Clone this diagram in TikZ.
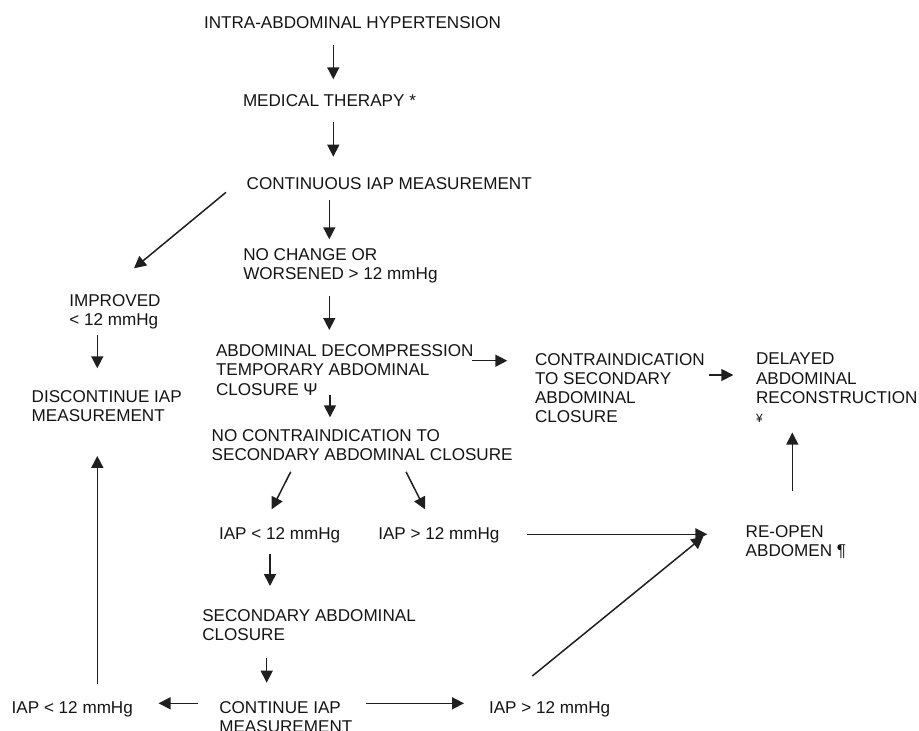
\documentclass[tikz,border=0pt]{standalone}
\usepackage{fontspec}
\setmainfont{Liberation Sans}
\usetikzlibrary{arrows.meta,calc}
\begin{document}
\begin{tikzpicture}[x=1pt,y=-1pt,
  lbl/.style={anchor=north west,inner sep=0pt,outer sep=0pt,align=left,text=black!92,
    font=\fontsize{17.1}{19.2}\selectfont},
  arr/.style={line width=1.5pt,draw=black!88,-{Triangle[width=12pt,length=12pt]}}]
\useasboundingbox (0,0) rectangle (919,731);
% nodes
\node[lbl] (n1) at (204,16.8) {INTRA-ABDOMINAL HYPERTENSION};
\node[lbl] (n2) at (243,94.2) {MEDICAL THERAPY *};
\node[lbl] (n3) at (246.7,177.5) {CONTINUOUS IAP MEASUREMENT};
\node[lbl] (n4) at (243.3,248.5) {NO CHANGE OR\\WORSENED > 12 mmHg};
\node[lbl] (n5) at (69.3,294.8) {IMPROVED\\< 12 mmHg};
\node[lbl] (n6) at (31.7,390.2) {DISCONTINUE IAP\\MEASUREMENT};
\node[lbl] (n7) at (216,344.8) {ABDOMINAL DECOMPRESSION\\TEMPORARY ABDOMINAL\\CLOSURE Ψ};
\node[lbl] (n8) at (535,353.2) {CONTRAINDICATION\\TO SECONDARY\\ABDOMINAL\\CLOSURE};
\node[lbl] (n9) at (756,353.2) {DELAYED\\ABDOMINAL\\RECONSTRUCTION\\{\fontsize{12}{19.2}\selectfont ¥}};
\node[lbl] (n10) at (211.7,429.8) {NO CONTRAINDICATION TO\\SECONDARY ABDOMINAL CLOSURE};
\node[lbl] (n11) at (219,527.5) {IAP < 12 mmHg};
\node[lbl] (n12) at (378.3,527.5) {IAP > 12 mmHg};
\node[lbl] (n13) at (745.7,525.8) {RE-OPEN\\ABDOMEN ¶};
\node[lbl] (n14) at (202.3,609.2) {SECONDARY ABDOMINAL\\CLOSURE};
\node[lbl] (n15) at (219.3,701.5) {CONTINUE IAP\\MEASUREMENT};
\node[lbl] (n16) at (11.7,701.5) {IAP < 12 mmHg};
\node[lbl] (n17) at (489,701.5) {IAP > 12 mmHg};
% guide coordinates
\coordinate (vA) at (333.3,0);
\coordinate (vC) at (329.3,0);
\coordinate (vD) at (330,0);
\coordinate (vE) at (97.3,0);
\coordinate (vF) at (270,0);
\coordinate (vG) at (266.7,0);
\coordinate (vH) at (792.3,0);
\coordinate (hA) at (0,360.7);
\coordinate (hB) at (0,375);
\coordinate (hC) at (0,534.3);
\coordinate (hD) at (0,703.3);
% connectors
\draw[arr,shorten <=16.4pt,shorten >=14.9pt] (n1.south -| vA) -- (n2.north -| vA);
\draw[arr,shorten <=16pt,shorten >=20.8pt] (n2.south -| vA) -- (n3.north -| vA);
\draw[arr,shorten <=10.7pt,shorten >=9.2pt] (n3.south -| vC) -- (n4.north -| vC);
\draw[arr,shorten <=13.1pt,shorten >=14.8pt] (n4.south -| vC) -- (n7.north -| vC);
\draw[arr,shorten <=5.4pt,shorten >=21.9pt] (n5.south -| vE) -- (n6.north -| vE);
\draw[arr] ($(n3.south west)+(-20.7,2.7)$) -- ($(n5.north west)+(64.7,-26.5)$);
\draw[arr,shorten >=12.5pt] (n7.south -| vD) -- (n10.north -| vD);
\draw[arr,shorten <=-1pt,shorten >=27.7pt] (n7.east |- hA) -- (n8.west |- hA);
\draw[arr,shorten <=4.3pt,shorten >=22.7pt] (n8.east |- hB) -- (n9.west |- hB);
\draw[arr] ($(n10.south west)+(79,10.7)$) -- ($(n11.north west)+(52.7,-18.2)$);
\draw[arr] ($(n10.south west)+(194.3,10.7)$) -- ($(n12.north west)+(46.7,-18.2)$);
\draw[arr,shorten <=11.4pt,shorten >=23.2pt] (n11.south -| vF) -- (n14.north -| vF);
\draw[arr,shorten <=17.3pt,shorten >=18.8pt] (n14.south -| vG) -- (n15.north -| vG);
\draw[arr,shorten <=21.6pt,shorten >=25.7pt] (n15.west |- hD) -- (n16.east |- hD);
\draw[arr,shorten <=13.7pt,shorten >=25pt] (n15.east |- hD) -- (n17.west |- hD);
\draw[arr,shorten <=17.5pt,shorten >=34.4pt] (n16.north -| vE) -- (n6.south -| vE);
\draw[arr,shorten <=27.3pt,shorten >=38.4pt] (n12.east |- hC) -- (n13.west |- hC);
\draw[arr] ($(n17.north west)+(43.3,-25.5)$) -- ($(n13.north west)+(-42.4,10.9)$);
\draw[arr,shorten <=35.1pt,shorten >=10pt] (n13.north -| vH) -- (n9.south -| vH);
\end{tikzpicture}
\end{document}
